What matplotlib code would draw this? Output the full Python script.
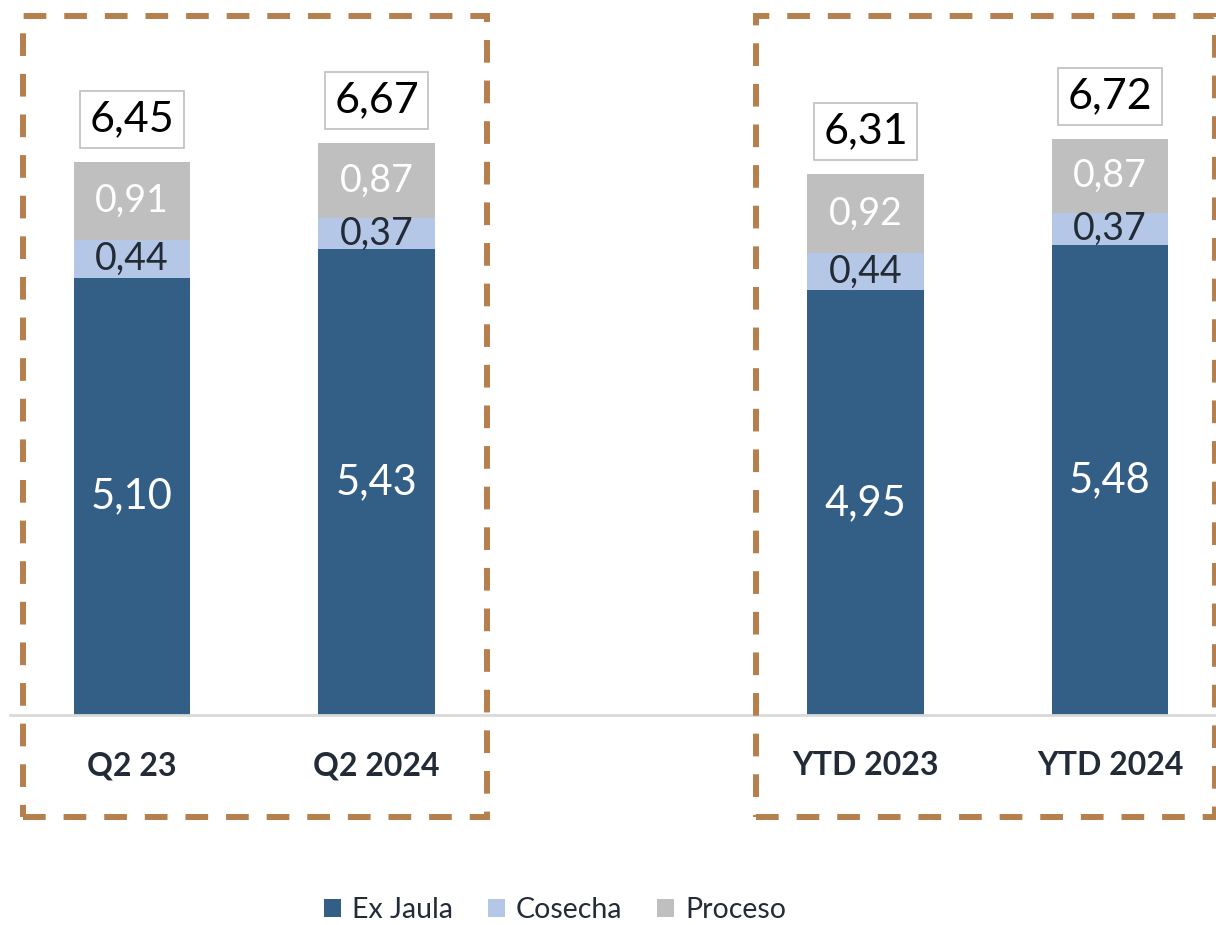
import matplotlib
matplotlib.use("Agg")
import matplotlib.pyplot as plt
from matplotlib.patches import Rectangle
import numpy as np

# ---- data ----
categories = ["Q2 23", "Q2 2024", "", "YTD 2023", "YTD 2024"]
ex_jaula = [5.10, 5.43, np.nan, 4.95, 5.48]
cosecha = [0.44, 0.37, np.nan, 0.44, 0.37]
proceso = [0.91, 0.87, np.nan, 0.92, 0.87]
totals = [6.45, 6.67, np.nan, 6.31, 6.72]
series_names = ["Ex Jaula", "Cosecha", "Proceso"]

# ---- style ----
c_dark = "#335F87"
c_light = "#B4C7E7"
c_gray = "#BFBFBF"
c_text = "#232B36"
c_brown = "#B5804D"
FONT = "Lato"

fig = plt.figure(figsize=(12.16, 9.25), dpi=100)
ax = fig.add_axes([10 / 1216, (925 - 715) / 925, 1206 / 1216, 705 / 925])

x = np.arange(len(categories))
w = 0.478
ex = np.array(ex_jaula)
co = np.array(cosecha)
pr = np.array(proceso)

b1 = ax.bar(x, ex, w, color=c_dark, label=series_names[0])
b2 = ax.bar(x, co, w, bottom=ex, color=c_light, label=series_names[1])
b3 = ax.bar(x, pr, w, bottom=ex + co, color=c_gray, label=series_names[2])

def fmt(v):
    return f"{v:.2f}".replace(".", ",")

for i in range(len(x)):
    if np.isnan(ex[i]):
        continue
    ax.text(x[i], ex[i] / 2, fmt(ex[i]), ha="center", va="center",
            color="white", fontsize=30, family=FONT)
    ax.text(x[i], ex[i] + co[i] / 2, fmt(co[i]), ha="center", va="center",
            color=c_text, fontsize=27, family=FONT)
    ax.text(x[i], ex[i] + co[i] + pr[i] / 2, fmt(pr[i]), ha="center", va="center",
            color="white", fontsize=27, family=FONT)
    ax.annotate(fmt(totals[i]), xy=(x[i], totals[i]), xytext=(0, 30.5),
                textcoords="offset points", ha="center", va="center",
                color="black", fontsize=31, family=FONT,
                bbox=dict(boxstyle="square,pad=0.22", fc="white", ec="#BFBFBF", lw=1.2))

ax.set_xlim(-0.499, 4.4335)
ax.set_ylim(0, 8.22)
ax.set_xticks(x)
ax.set_xticklabels(categories, fontsize=23, fontweight="bold", color=c_text, family=FONT)
ax.tick_params(axis="x", length=0, pad=26)
ax.set_yticks([])
for s in ["top", "right", "left"]:
    ax.spines[s].set_visible(False)
ax.spines["bottom"].set_color("#D9D9D9")
ax.spines["bottom"].set_linewidth(2)

# dashed group frames (in data coordinates around each pair of bars)
groups = [(0, 1), (3, 4)]
for g0, g1 in groups:
    left = x[g0] - 0.446
    right = x[g1] + 0.45 if g1 == 1 else x[g1] + 0.43
    r = Rectangle((left, -1.19), right - left, 8.15 + 1.19, fill=False,
                  ec=c_brown, lw=4.3, linestyle=(0, (3.8, 3.0)),
                  clip_on=False, zorder=5)
    r.set_capstyle("butt")
    ax.add_patch(r)

leg = fig.legend(handles=[b1, b2, b3], labels=series_names,
                 loc="center", bbox_to_anchor=(555 / 1216, 1 - 910 / 925),
                 ncol=3, frameon=False, prop={"family": FONT, "size": 20.5},
                 handlelength=0.6, handleheight=0.6, handletextpad=0.4,
                 columnspacing=1.2)
for t in leg.get_texts():
    t.set_color(c_text)

fig.savefig("out.png", dpi=100)
